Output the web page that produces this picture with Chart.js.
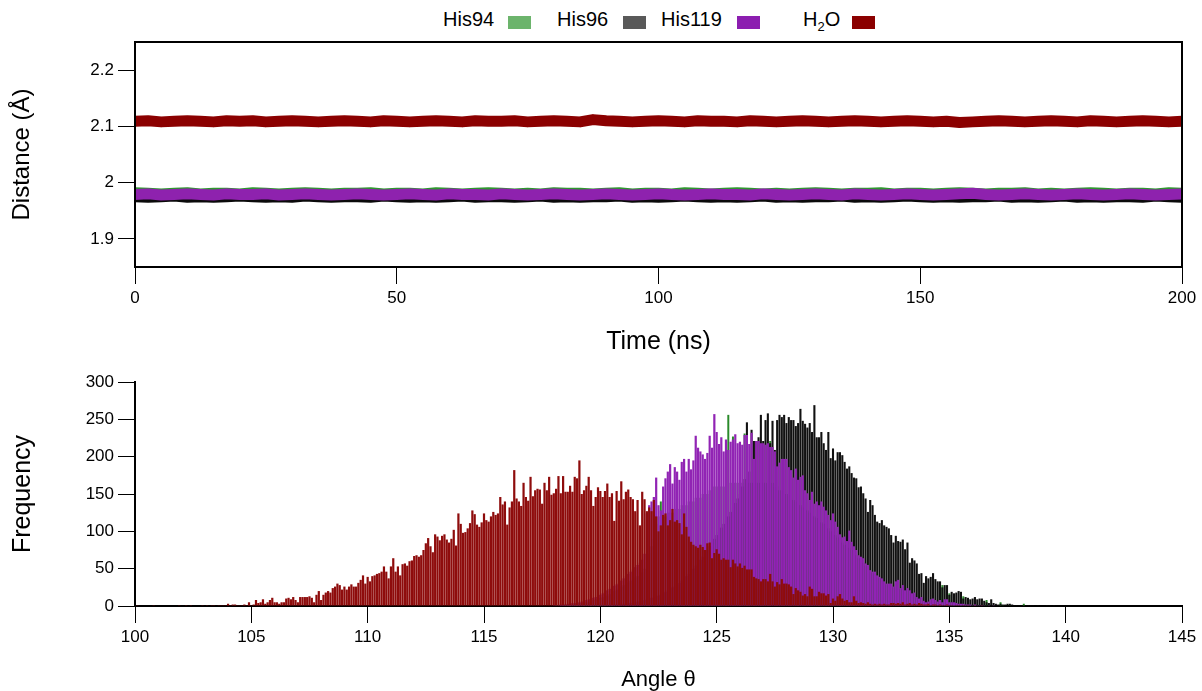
<!DOCTYPE html>
<html>
<head>
<meta charset="utf-8">
<script src="https://cdn.jsdelivr.net/npm/chart.js@4.4.1/dist/chart.umd.min.js"></script>
<style>
  html, body { margin: 0; padding: 0; background: #fff; }
  body { width: 1202px; height: 691px; position: relative; overflow: hidden; font-family: "Liberation Sans", Arial, sans-serif; }
  canvas { position: absolute; left: 0; }
  #distChart { top: 0; }
  #angleChart { top: 360px; }
  .leg { position: absolute; top: 7px; font-size: 20px; line-height: 24px; color: #000; white-space: nowrap; }
  .leg sub { font-size: 13px; line-height: 0; }
  .sw { position: absolute; top: 16px; width: 23px; height: 13px; }
</style>
</head>
<body>
<div class="leg" style="left:443px">His94</div>
<div class="sw" style="left:508px;background:#6cb46c"></div>
<div class="leg" style="left:557px">His96</div>
<div class="sw" style="left:623px;background:#595959"></div>
<div class="leg" style="left:661px">His119</div>
<div class="sw" style="left:737px;background:#8c1eb0"></div>
<div class="leg" style="left:803px">H<sub>2</sub>O</div>
<div class="sw" style="left:852px;background:#8b0000"></div>

<canvas id="distChart" width="1202" height="360"></canvas>
<canvas id="angleChart" width="1202" height="331"></canvas>

<script>
// ---- top panel: distance vs time, one value every 2.5 ns ----
const timeStep = 2.5;
const timeTicks = [0, 50, 100, 150, 200];
const distTicks = [1.9, 2.0, 2.1, 2.2];

const h2oDist = [
  2.109,2.110,2.108,2.109,2.110,2.109,2.108,2.110,2.109,2.110,
  2.108,2.109,2.110,2.109,2.108,2.109,2.110,2.109,2.108,2.110,
  2.109,2.108,2.109,2.110,2.109,2.108,2.110,2.109,2.109,2.110,
  2.108,2.109,2.110,2.109,2.108,2.112,2.110,2.109,2.108,2.109,
  2.110,2.109,2.108,2.110,2.109,2.109,2.108,2.110,2.109,2.108,
  2.109,2.110,2.109,2.108,2.109,2.110,2.109,2.108,2.109,2.110,
  2.109,2.108,2.109,2.107,2.108,2.109,2.110,2.109,2.108,2.109,
  2.110,2.109,2.108,2.110,2.109,2.108,2.109,2.110,2.109,2.108,
  2.109
];
const his119Dist = [
  1.979,1.980,1.978,1.979,1.980,1.979,1.978,1.980,1.979,1.979,
  1.980,1.978,1.979,1.980,1.979,1.978,1.979,1.980,1.979,1.978,
  1.979,1.980,1.979,1.978,1.980,1.979,1.979,1.978,1.980,1.979,
  1.978,1.979,1.980,1.979,1.978,1.979,1.980,1.979,1.978,1.979,
  1.980,1.979,1.978,1.979,1.980,1.979,1.979,1.978,1.980,1.979,
  1.978,1.979,1.980,1.979,1.978,1.980,1.979,1.978,1.979,1.980,
  1.979,1.978,1.979,1.980,1.981,1.979,1.978,1.979,1.980,1.979,
  1.978,1.979,1.980,1.979,1.978,1.979,1.980,1.979,1.978,1.979,
  1.980
];
const his96Dist = [
  1.975,1.974,1.975,1.976,1.974,1.975,1.974,1.975,1.976,1.975,
  1.974,1.975,1.974,1.976,1.975,1.974,1.975,1.975,1.974,1.976,
  1.975,1.974,1.975,1.974,1.975,1.976,1.974,1.975,1.975,1.974,
  1.975,1.976,1.974,1.975,1.974,1.975,1.975,1.976,1.974,1.975,
  1.974,1.975,1.976,1.975,1.974,1.975,1.974,1.975,1.976,1.974,
  1.975,1.974,1.975,1.975,1.976,1.974,1.975,1.974,1.975,1.976,
  1.975,1.974,1.975,1.974,1.975,1.975,1.976,1.974,1.975,1.974,
  1.975,1.976,1.974,1.975,1.974,1.975,1.975,1.974,1.976,1.975,
  1.974
];
const his94Dist = [
  1.982,1.981,1.980,1.981,1.982,1.980,1.981,1.981,1.980,1.982,
  1.981,1.980,1.981,1.982,1.981,1.980,1.981,1.981,1.982,1.980,
  1.981,1.981,1.980,1.982,1.981,1.980,1.981,1.982,1.981,1.980,
  1.981,1.980,1.982,1.981,1.981,1.980,1.981,1.982,1.980,1.981,
  1.981,1.980,1.982,1.981,1.980,1.981,1.982,1.981,1.980,1.981,
  1.980,1.981,1.982,1.981,1.980,1.981,1.981,1.982,1.980,1.981,
  1.981,1.980,1.981,1.982,1.981,1.980,1.981,1.981,1.982,1.980,
  1.981,1.980,1.981,1.982,1.981,1.980,1.981,1.981,1.980,1.982,
  1.981
];

// ---- bottom panel: angle histograms, 0.1 degree bins ----
const binWidth = 0.1;
const angleTicks = [100, 105, 110, 115, 120, 125, 130, 135, 140, 145];
const freqTicks = [0, 50, 100, 150, 200, 250, 300];

const h2oStart = 100.0;
const h2oFreq = [
  0,1,0,0,0,0,0,0,1,0,          // 100
  0,0,0,0,0,0,0,0,0,1,          // 101
  0,0,1,0,1,0,0,0,0,1,          // 102
  0,1,0,1,1,0,1,1,1,1,          // 103
  3,1,2,2,1,1,1,2,1,5,          // 104
  1,2,8,4,5,9,3,5,8,11,         // 105
  5,5,3,5,5,10,11,9,12,8,       // 106
  5,12,12,12,12,13,11,5,15,20,  // 107
  8,15,18,20,18,24,26,30,28,22, // 108
  26,22,26,29,26,26,31,35,41,30, // 109
  39,33,40,41,43,44,46,53,46,37, // 110
  53,64,46,53,41,56,57,54,60,61, // 111
  67,68,66,68,75,84,91,80,72,96, // 112
  93,88,94,96,89,85,90,102,81,124, // 113
  110,98,99,104,111,128,123,109,106,112, // 114
  124,115,113,120,126,122,124,146,136,140, // 115
  109,132,140,182,144,140,134,165,146,141, // 116
  173,147,155,157,156,137,165,155,173,149, // 117
  151,157,174,151,174,153,153,161,153,173, // 118
  171,195,150,155,161,173,155,134,146,159, // 119
  154,146,154,164,146,151,114,154,141,167, // 120
  143,153,156,146,143,127,142,108,153,143, // 121
  127,132,127,142,120,100,108,122,124,108, // 122
  115,130,113,115,111,96,124,106,93,86,    // 123
  82,80,78,82,79,75,84,85,64,71,  // 124
  76,70,62,64,62,62,52,62,57,53,  // 125
  57,51,54,49,49,49,39,37,36,33,  // 126
  36,36,33,43,33,26,32,29,36,30,  // 127
  30,29,26,16,24,21,19,14,16,13,  // 128
  26,23,13,13,19,17,17,14,16,4,   // 129
  10,7,13,16,10,7,8,5,5,13,       // 130
  7,4,5,4,3,5,3,2,3,2,            // 131
  3,2,3,2,2,4,4,3,4,3,            // 132
  5,2,3,4,2,3,2,4,3,2,            // 133
  2,3,1,2,2,1,2,1,1,2,            // 134
  1,1,0,1,1,0,1,0,1,0,            // 135
  0,1,0,0,1,0,0,0,0,0             // 136
];

const his119Start = 118.0;
const his119Freq = [
  1,1,1,2,2,2,3,3,4,4,                      // 118
  5,5,6,7,8,9,10,11,12,14,                  // 119
  15,17,19,21,23,25,27,29,31,34,            // 120
  37,40,43,46,49,52,55,58,62,70,            // 121
  124,135,140,146,172,135,128,160,171,180,  // 122
  190,164,186,180,169,193,197,180,197,183,  // 123
  195,228,212,207,203,197,205,228,212,257,  // 124
  233,217,226,207,223,209,220,223,230,218,  // 125
  220,216,229,229,217,232,197,221,221,218,  // 126
  218,216,218,213,213,207,187,192,197,197,  // 127
  197,186,182,172,184,169,173,175,155,151,  // 128
  142,153,137,140,135,140,133,128,122,115,  // 129
  124,113,106,96,92,93,87,101,86,80,        // 130
  75,68,66,64,57,55,48,46,46,41,            // 131
  39,37,33,30,30,30,26,33,35,24,            // 132
  28,21,24,21,17,18,12,10,12,7,             // 133
  5,6,9,10,8,6,8,5,9,9,                     // 134
  5,5,5,4,3,3,3,2,2,2,                      // 135
  1,2,1,1,1,1,0,1,0,1                       // 136
];

const his96Start = 120.0;
const his96Freq = [
  0,0,1,1,1,1,2,2,2,3,                      // 120
  3,3,4,4,5,5,6,6,7,8,                      // 121
  9,10,11,12,13,14,15,17,19,21,             // 122
  23,25,27,29,31,34,37,40,43,46,            // 123
  50,54,58,62,66,70,75,80,85,90,            // 124
  95,100,105,110,115,120,126,132,138,144,   // 125
  150,160,170,246,180,236,221,221,226,256,  // 126
  221,249,258,218,248,209,249,256,253,256,  // 127
  245,253,249,249,241,245,264,248,244,239,  // 128
  245,233,269,226,226,233,218,209,233,198,  // 129
  211,195,206,206,202,193,184,187,178,172,  // 130
  171,159,160,151,144,126,142,135,122,113,  // 131
  111,115,108,106,104,95,85,94,87,86,       // 132
  89,76,85,58,64,61,57,43,44,31,            // 133
  40,37,39,44,36,33,33,25,28,28,            // 134
  15,19,17,18,20,19,10,12,11,9,             // 135
  10,12,9,10,10,7,5,4,9,4,                  // 136
  3,2,3,2,2,3,3,2,1,1,                      // 137
  1,1,1,0,1,1,1,0,1,0,                      // 138
  0,0,1,1,0,1,0,0,0,0                       // 139
];

const his94Start = 118.0;
const his94Freq = [
  0,1,1,1,1,2,2,2,3,3,                      // 118
  3,4,4,5,5,6,7,8,9,10,                     // 119
  11,12,13,14,16,18,20,22,24,26,            // 120
  28,30,32,34,36,38,40,42,45,50,            // 121
  60,70,80,90,110,120,140,120,120,125,      // 122
  125,125,130,130,130,135,135,135,140,140,  // 123
  140,145,145,145,150,150,150,155,155,160,  // 124
  160,160,160,160,160,256,165,227,165,165,  // 125
  165,165,231,165,165,165,165,165,165,165,  // 126
  165,165,165,221,165,160,160,155,155,150,  // 127
  150,148,145,142,140,138,135,132,130,128,  // 128
  125,122,120,118,115,112,110,107,104,100,  // 129
  98,95,92,88,85,82,80,78,75,72,            // 130
  68,64,60,58,54,50,46,44,42,38,            // 131
  37,35,32,29,28,28,25,30,32,23,            // 132
  26,20,22,20,16,17,11,10,11,7,             // 133
  5,6,8,9,8,6,8,28,9,9,                     // 134
  17,5,5,4,3,3,13,2,2,2,                    // 135
  1,2,1,1,1,1,8,1,0,1,                      // 136
  0,0,5,1,0,0,1,0,0,0,                      // 137
  0,0,3,0,0,0,0,0,0,0                       // 138
];

// ---- shared styling ----
const FONT = '"Liberation Sans", Arial, sans-serif';
const tickFont = { family: FONT, size: 17 };
const gridStyle = { drawOnChartArea: false, color: '#000', lineWidth: 1, tickLength: 17 };
const borderStyle = { color: '#000', width: 2 };

const fixedTicks = (values) => (scale) => { scale.ticks = values.map(v => ({ value: v })); };
const series = (vals, step, start) => vals.map((v, i) => ({ x: +(start + i * step).toFixed(2), y: v }));

// draws the closed box around the plot area
const framePlugin = {
  id: 'frame',
  afterDraw(chart) {
    const { ctx, chartArea: a } = chart;
    ctx.save();
    ctx.strokeStyle = '#000';
    ctx.lineWidth = 2;
    ctx.strokeRect(a.left, a.top, a.right - a.left, a.bottom - a.top);
    ctx.restore();
  }
};

function lineSet(label, vals, color) {
  return {
    label,
    data: series(vals, timeStep, 0),
    borderColor: color,
    borderWidth: 11,
    borderJoinStyle: 'round',
    pointRadius: 0,
    tension: 0,
    fill: false
  };
}

new Chart(document.getElementById('distChart'), {
  type: 'line',
  data: {
    datasets: [
      lineSet('H2O', h2oDist, '#8b0000'),
      lineSet('His119', his119Dist, '#8e22ae'),
      lineSet('His96', his96Dist, '#0a0a0a'),
      lineSet('His94', his94Dist, '#2e962e')
    ]
  },
  options: {
    responsive: false,
    animation: false,
    events: [],
    layout: { padding: { top: 42, right: 20, left: 0, bottom: 0 } },
    plugins: { legend: { display: false }, tooltip: { enabled: false } },
    scales: {
      x: {
        type: 'linear', min: 0, max: 200,
        afterFit: (s) => { s.height = 93; },
        afterBuildTicks: fixedTicks(timeTicks),
        ticks: { color: '#000', font: tickFont, padding: 4, maxRotation: 0 },
        grid: gridStyle,
        border: borderStyle,
        title: { display: true, text: 'Time (ns)', color: '#000', font: { family: FONT, size: 25 }, padding: { top: 0, bottom: 3 } }
      },
      y: {
        min: 1.85, max: 2.25,
        afterFit: (s) => { s.width = 135; },
        afterBuildTicks: fixedTicks(distTicks),
        ticks: { color: '#000', font: tickFont, padding: 4, callback: (v) => String(+v.toFixed(1)) },
        grid: gridStyle,
        border: borderStyle,
        title: { display: true, text: 'Distance (Å)', color: '#000', font: { family: FONT, size: 24 }, padding: { top: 8, bottom: 0 } }
      }
    }
  },
  plugins: [framePlugin]
});

new Chart(document.getElementById('angleChart'), {
  type: 'bar',
  data: {
    datasets: [
      { label: 'H2O', data: series(h2oFreq, binWidth, h2oStart), backgroundColor: '#8e0c0c', barPercentage: 0.95 },
      { label: 'His119', data: series(his119Freq, binWidth, his119Start), backgroundColor: '#9124b4', barPercentage: 0.95 },
      { label: 'His96', data: series(his96Freq, binWidth, his96Start), backgroundColor: '#111111', barPercentage: 0.9 },
      { label: 'His94', data: series(his94Freq, binWidth, his94Start), backgroundColor: '#2a8a2a', barPercentage: 0.85 }
    ]
  },
  options: {
    responsive: false,
    animation: false,
    events: [],
    layout: { padding: { top: 22, right: 20, left: 0, bottom: 0 } },
    datasets: { bar: { grouped: false, categoryPercentage: 1, borderWidth: 0 } },
    plugins: { legend: { display: false }, tooltip: { enabled: false } },
    scales: {
      x: {
        type: 'linear', min: 100, max: 145, offset: false,
        afterFit: (s) => { s.height = 85; },
        afterBuildTicks: fixedTicks(angleTicks),
        ticks: { color: '#000', font: tickFont, padding: 4, maxRotation: 0 },
        grid: { ...gridStyle, offset: false },
        border: borderStyle,
        title: { display: true, text: 'Angle θ', color: '#000', font: { family: FONT, size: 22, lineHeight: 1 }, padding: { top: 0, bottom: 0 } }
      },
      y: {
        min: 0, max: 300,
        afterFit: (s) => { s.width = 135; },
        afterBuildTicks: fixedTicks(freqTicks),
        ticks: { color: '#000', font: tickFont, padding: 4 },
        grid: gridStyle,
        border: borderStyle,
        title: { display: true, text: 'Frequency', color: '#000', font: { family: FONT, size: 25 }, padding: { top: 8, bottom: 0 } }
      }
    }
  }
});
</script>
</body>
</html>
